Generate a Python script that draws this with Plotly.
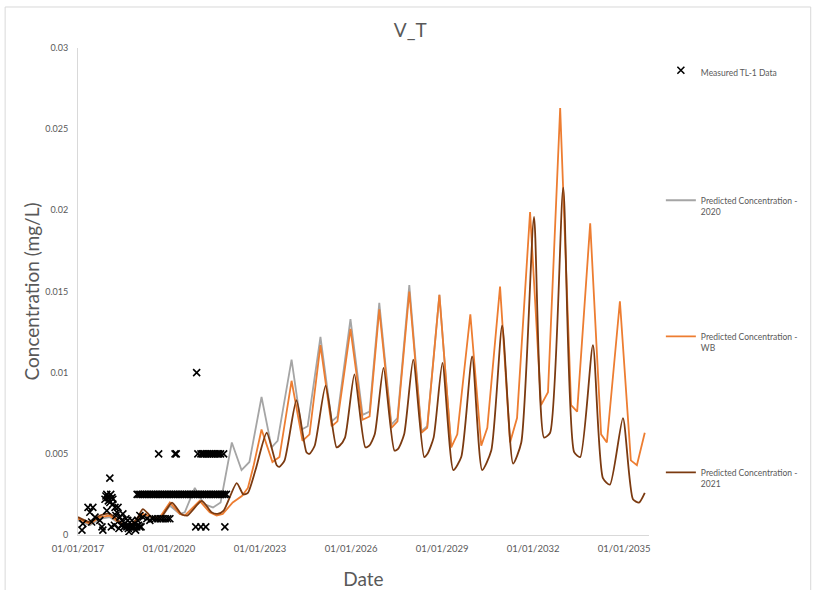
import pandas as pd
import plotly.graph_objects as go

# ---------------- data (decimal years -> values, mg/L) ----------------
WB_YEAR = [2017.00, 2017.39, 2017.72, 2018.05, 2018.61, 2018.94, 2019.14, 2019.43, 2019.70, 2020.03,
           2020.36, 2020.52, 2021.01, 2021.34, 2021.57, 2021.77, 2022.10, 2022.40, 2022.60, 2022.78,
           2023.05, 2023.41, 2023.64, 2024.04, 2024.40, 2024.63, 2024.99, 2025.36, 2025.55, 2025.98,
           2026.38, 2026.61, 2026.93, 2027.33, 2027.53, 2027.92, 2028.32, 2028.51, 2028.91, 2029.30,
           2029.50, 2029.93, 2030.29, 2030.49, 2030.91, 2031.24, 2031.47, 2031.90, 2032.26, 2032.49,
           2032.89, 2033.25, 2033.45, 2033.88, 2034.24, 2034.43, 2034.86, 2035.22, 2035.42, 2035.68]
WB_CONC = [0.0010, 0.0007, 0.0011, 0.0012, 0.0004, 0.0009, 0.0013, 0.0011, 0.0011, 0.0020,
           0.0013, 0.0012, 0.0021, 0.0014, 0.0012, 0.0013, 0.0020, 0.0024, 0.0029, 0.0042,
           0.0065, 0.0045, 0.0048, 0.0095, 0.0058, 0.0062, 0.0117, 0.0067, 0.0070, 0.0127,
           0.0071, 0.0073, 0.0139, 0.0066, 0.0070, 0.0150, 0.0063, 0.0066, 0.0148, 0.0054,
           0.0062, 0.0136, 0.0055, 0.0066, 0.0153, 0.0057, 0.0072, 0.0199, 0.0080, 0.0088,
           0.0263, 0.0080, 0.0076, 0.0192, 0.0062, 0.0057, 0.0144, 0.0046, 0.0043, 0.0063]

P2020_YEAR = [2017.00, 2017.39, 2017.72, 2018.05, 2018.61, 2018.94, 2019.14, 2019.43, 2019.70, 2020.03,
              2020.36, 2020.52, 2020.85, 2021.15, 2021.45, 2021.70, 2022.07, 2022.39, 2022.65, 2023.05,
              2023.38, 2023.58, 2024.04, 2024.37, 2024.57, 2024.99, 2025.36, 2025.55, 2025.98, 2026.38,
              2026.61, 2026.93, 2027.33, 2027.53, 2027.92, 2028.32, 2028.51, 2028.91, 2029.30]
P2020_CONC = [0.0009, 0.0006, 0.0010, 0.0011, 0.0004, 0.0008, 0.0012, 0.0010, 0.0010, 0.0018,
              0.0013, 0.0014, 0.0029, 0.0019, 0.0017, 0.0020, 0.0057, 0.0040, 0.0045, 0.0085,
              0.0054, 0.0058, 0.0108, 0.0065, 0.0067, 0.0122, 0.0070, 0.0073, 0.0133, 0.0074,
              0.0076, 0.0143, 0.0068, 0.0072, 0.0154, 0.0064, 0.0067, 0.0148, 0.0054]

P2021_YEAR = [2017.00, 2017.39, 2017.72, 2018.05, 2018.61, 2018.94, 2019.14, 2019.43, 2019.70, 2020.10,
              2020.40, 2020.60, 2021.08, 2021.40, 2021.60, 2021.80, 2022.23, 2022.45, 2022.60, 2022.85,
              2023.22, 2023.55, 2023.64, 2023.81, 2024.20, 2024.53, 2024.63, 2024.80, 2025.16, 2025.52,
              2025.62, 2025.80, 2026.11, 2026.47, 2026.60, 2026.78, 2027.07, 2027.43, 2027.55, 2027.75,
              2028.05, 2028.41, 2028.52, 2028.72, 2029.01, 2029.37, 2029.63, 2029.99, 2030.32, 2030.62,
              2030.98, 2031.34, 2031.61, 2032.03, 2032.36, 2032.56, 2032.99, 2033.35, 2033.55, 2033.97,
              2034.30, 2034.53, 2034.96, 2035.29, 2035.49, 2035.68]
P2021_CONC = [0.0011, 0.0008, 0.0012, 0.0013, 0.0005, 0.0010, 0.0016, 0.0011, 0.0010, 0.0020,
              0.0013, 0.0012, 0.0021, 0.0014, 0.0013, 0.0015, 0.0032, 0.0025, 0.0026, 0.0040,
              0.0063, 0.0043, 0.0042, 0.0046, 0.0083, 0.0051, 0.0050, 0.0055, 0.0092, 0.0054,
              0.0055, 0.0060, 0.0099, 0.0054, 0.0055, 0.0062, 0.0103, 0.0052, 0.0053, 0.0062,
              0.0108, 0.0048, 0.0050, 0.0060, 0.0106, 0.0040, 0.0048, 0.0110, 0.0040, 0.0052,
              0.0129, 0.0044, 0.0057, 0.0196, 0.0060, 0.0063, 0.0214, 0.0051, 0.0048, 0.0117,
              0.0035, 0.0031, 0.0072, 0.0022, 0.0020, 0.0026]

# Measured TL-1 data
MEAS_EARLY_YEAR = [2017.13, 2017.16, 2017.33, 2017.39, 2017.49, 2017.56, 2017.72, 2017.79, 2017.82, 2017.89,
                   2017.95, 2017.99, 2018.05, 2018.05, 2018.12, 2018.15, 2017.95, 2018.22, 2018.28, 2018.32,
                   2018.38, 2018.45, 2018.48, 2018.55, 2018.61, 2018.64, 2018.71, 2018.78, 2018.81, 2018.88,
                   2018.94, 2018.97, 2019.04, 2019.04, 2019.14, 2019.27, 2019.37, 2018.10, 2018.20, 2018.35,
                   2018.90, 2019.00, 2018.68, 2018.52, 2018.75, 2018.85, 2019.08, 2017.45, 2018.25, 2018.58,
                   2017.92, 2018.00, 2018.08, 2018.15, 2018.42, 2018.66]
MEAS_EARLY_CONC = [0.0003, 0.0007, 0.0017, 0.0014, 0.0017, 0.0011, 0.0009, 0.0005, 0.0003, 0.0022,
                   0.0025, 0.0023, 0.0035, 0.0020, 0.0023, 0.0022, 0.0015, 0.0017, 0.0014, 0.0017,
                   0.0011, 0.0009, 0.0013, 0.0007, 0.0005, 0.0009, 0.0005, 0.0009, 0.0005, 0.0007,
                   0.0005, 0.0009, 0.0012, 0.0005, 0.0011, 0.0010, 0.0009, 0.0005, 0.0006, 0.0004,
                   0.0003, 0.0006, 0.0002, 0.0005, 0.0005, 0.0005, 0.0005, 0.0008, 0.0012, 0.0010,
                   0.0024, 0.0021, 0.0025, 0.0019, 0.0006, 0.0004]
MEAS_LOW_YEAR = [2019.47, 2019.55, 2019.63, 2019.72, 2019.80, 2019.88, 2019.96, 2020.03,
                 2020.88, 2021.05, 2021.21, 2021.84]
MEAS_LOW_CONC = [0.0010, 0.0010, 0.0010, 0.0010, 0.0010, 0.0010, 0.0010, 0.0010,
                 0.0005, 0.0005, 0.0005, 0.0005]
MEAS_LIMIT_YEAR = [2018.95, 2019.01, 2019.07, 2019.13, 2019.19, 2019.25, 2019.31, 2019.37, 2019.43, 2019.49,
                   2019.55, 2019.61, 2019.67, 2019.73, 2019.79, 2019.85, 2019.91, 2019.97, 2020.03, 2020.09,
                   2020.15, 2020.21, 2020.27, 2020.33, 2020.39, 2020.45, 2020.51, 2020.57, 2020.63, 2020.69,
                   2020.75, 2020.81, 2020.87, 2020.93, 2020.99, 2021.05, 2021.11, 2021.17, 2021.23, 2021.29,
                   2021.35, 2021.41, 2021.47, 2021.53, 2021.59, 2021.65, 2021.71, 2021.77, 2021.83, 2021.89]
MEAS_LIMIT_CONC = [0.0025] * len(MEAS_LIMIT_YEAR)
MEAS_HIGH_YEAR = [2019.66, 2020.20, 2020.24, 2020.95, 2021.05, 2021.10, 2021.16, 2021.22, 2021.28, 2021.34,
                  2021.40, 2021.46, 2021.52, 2021.58, 2021.64, 2021.70, 2021.80, 2020.91]
MEAS_HIGH_CONC = [0.0050, 0.0050, 0.0050, 0.0050, 0.0050, 0.0050, 0.0050, 0.0050, 0.0050, 0.0050,
                  0.0050, 0.0050, 0.0050, 0.0050, 0.0050, 0.0050, 0.0050, 0.0100]

Y_TICKS = [0, 0.005, 0.01, 0.015, 0.02, 0.025, 0.03]
Y_TICK_TEXT = ["0", "0.005", "0.01", "0.015", "0.02", "0.025", "0.03"]


def to_dates(years):
    out = []
    for y in years:
        yr = int(y)
        start = pd.Timestamp(year=yr, month=1, day=1)
        end = pd.Timestamp(year=yr + 1, month=1, day=1)
        out.append(start + (end - start) * (y - yr))
    return out


FONT = "Lato, 'Open Sans', sans-serif"
TXT = "#595959"

meas_x = to_dates(MEAS_EARLY_YEAR + MEAS_LOW_YEAR + MEAS_LIMIT_YEAR + MEAS_HIGH_YEAR)
meas_y = MEAS_EARLY_CONC + MEAS_LOW_CONC + MEAS_LIMIT_CONC + MEAS_HIGH_CONC

fig = go.Figure()
fig.add_trace(go.Scatter(
    x=to_dates(P2020_YEAR), y=P2020_CONC, mode="lines",
    name="Predicted Concentration -<br>2020", legendgroup="g2", legendrank=2,
    line=dict(color="#A5A5A5", width=1.8)))
fig.add_trace(go.Scatter(
    x=to_dates(WB_YEAR), y=WB_CONC, mode="lines",
    name="Predicted Concentration -<br>WB", legendgroup="g3", legendrank=3,
    line=dict(color="#ED7D31", width=1.8)))
fig.add_trace(go.Scatter(
    x=to_dates(P2021_YEAR), y=P2021_CONC, mode="lines",
    name="Predicted Concentration -<br>2021", legendgroup="g4", legendrank=4,
    line=dict(color="#7B3A10", width=1.8, shape="spline", smoothing=0.6)))
fig.add_trace(go.Scatter(
    x=meas_x, y=meas_y, mode="markers",
    name="Measured TL-1 Data", legendgroup="g1", legendrank=1,
    marker=dict(symbol="x-thin", size=7, color="black",
                line=dict(color="black", width=1.6))))

fig.update_layout(
    width=814, height=590,
    paper_bgcolor="white", plot_bgcolor="white",
    margin=dict(l=78, r=164, t=48, b=55),
    font=dict(family=FONT, color=TXT),
    title=dict(text="V_T", x=0.504, xanchor="center", y=0.948, yanchor="middle",
               font=dict(size=19, color=TXT, family=FONT)),
    showlegend=True,
    legend=dict(x=1.019, xanchor="left", y=0.979, yanchor="top",
                font=dict(size=8.5, color=TXT, family=FONT),
                tracegroupgap=111, valign="top", itemwidth=30,
                bgcolor="rgba(0,0,0,0)"),
    shapes=[dict(type="rect", xref="paper", yref="paper",
                 x0=-0.1276, x1=1.2832, y0=-0.14, y1=1.0842,
                 line=dict(color="#D9D9D9", width=1), layer="below")],
)
fig.update_xaxes(
    type="date", range=["2017-01-01", "2035-10-27"], automargin=False,
    tick0="2017-01-01", dtick="M36", tickformat="%d/%m/%Y",
    showgrid=False, zeroline=False, showline=True, linecolor="#D9D9D9", linewidth=1,
    ticks="", ticklabelstandoff=5, tickfont=dict(size=9.5, color=TXT, family=FONT),
    title=dict(text="Date", font=dict(size=19, color=TXT, family=FONT), standoff=20),
)
fig.update_yaxes(
    range=[0, 0.03], tickvals=Y_TICKS, ticktext=Y_TICK_TEXT, automargin=False,
    showgrid=False, zeroline=False, showline=True, linecolor="#D9D9D9", linewidth=1,
    ticks="", ticklabelstandoff=7, tickfont=dict(size=9, color=TXT, family=FONT),
    title=dict(text="Concentration (mg/L)", font=dict(size=19, color=TXT, family=FONT), standoff=0),
)

fig.write_html("out.html", config={"displayModeBar": False},
               post_script="document.body.style.margin='0px';")
